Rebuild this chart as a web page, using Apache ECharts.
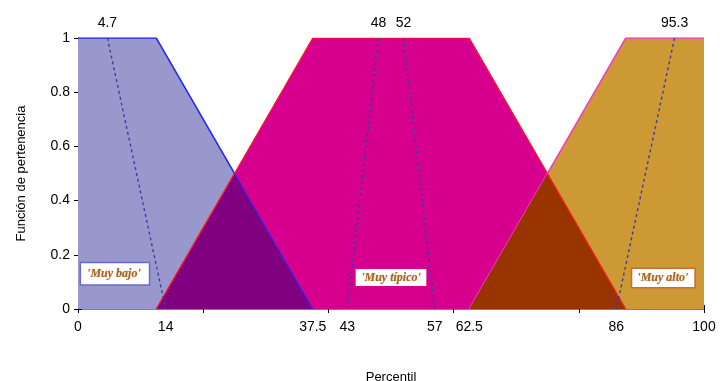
<!DOCTYPE html>
<html>
<head>
<meta charset="utf-8">
<script src="https://cdn.jsdelivr.net/npm/echarts@6/dist/echarts.min.js"></script>
<style>
  html, body { margin: 0; padding: 0; background: #fff; }
  #chart { width: 721px; height: 381px; }
</style>
</head>
<body>
<div id="chart"></div>
<script>
// Membership functions over the percentile axis
const muyBajo   = [[0, 1], [12.5, 1], [37.5, 0]];
const muyTipico = [[12.5, 0], [37.5, 1], [62.5, 1], [87.5, 0]];
const muyAlto   = [[62.5, 0], [87.5, 1], [100, 1]];

// Overlap regions between neighbouring sets
const overlapBajoTipico = [[12.5, 0], [25, 0.5], [37.5, 0]];
const overlapTipicoAlto = [[62.5, 0], [75, 0.5], [87.5, 0]];

// Dashed boundary lines
const dashBajo      = [[4.7, 1], [14, 0]];
const dashTipicoIzq = [[48, 1], [43, 0]];
const dashTipicoDer = [[52, 1], [57, 0]];
const dashAlto      = [[95.3, 1], [86, 0]];

// Axis ticks and labels
const bottomLabels = [0, 14, 37.5, 43, 57, 62.5, 86, 100];
const topLabels    = [4.7, 48, 52, 95.3];
const xTicks       = [0, 20, 40, 60, 80, 100];

// Set names and label anchor points
const setNames  = ["'Muy bajo'", "'Muy típico'", "'Muy alto'"];
const setAnchor = [[5.9, 0.13], [50, 0.116], [93.5, 0.114]];

const chart = echarts.init(document.getElementById('chart'));

function area(data, fill, edge, edgeWidth, z) {
  return {
    type: 'line', data: data, symbol: 'none', z: z,
    lineStyle: { color: edge, width: edgeWidth },
    areaStyle: { color: fill, opacity: 1 },
    animation: false, silent: true
  };
}
function dashed(data) {
  return {
    type: 'line', data: data, symbol: 'none', z: 10,
    lineStyle: { color: '#3c3ca8', width: 1.4, type: [3, 3] },
    animation: false, silent: true
  };
}
function tag(i, border, pad) {
  return {
    type: 'scatter', symbolSize: 0, z: 20, animation: false, silent: true,
    itemStyle: { opacity: 1 },
    data: [setAnchor[i]],
    label: {
      show: true, position: 'inside', formatter: setNames[i], opacity: 1,
      fontFamily: 'Liberation Serif', fontStyle: 'italic', fontWeight: 'bold',
      fontSize: 12, color: '#a3641c',
      textShadowColor: 'rgba(160,100,30,0.45)', textShadowBlur: 1.5,
      backgroundColor: '#ffffff', borderColor: border, borderWidth: 1.5,
      padding: pad
    }
  };
}

const font = 'Liberation Sans, Arial, sans-serif';

chart.setOption({
  backgroundColor: '#ffffff',
  animation: false,
  grid: { left: 78, right: 17, top: 38, bottom: 72, outerBoundsMode: 'none', containLabel: false },
  xAxis: [{
    type: 'value', min: 0, max: 100, position: 'bottom',
    name: 'Percentil', nameLocation: 'middle', nameGap: 62,
    nameTextStyle: { fontFamily: font, fontSize: 13, color: '#000' },
    axisLine: { show: true, onZero: false, lineStyle: { color: '#555', width: 1 } },
    axisTick: { show: true, inside: true, length: 4, customValues: xTicks, lineStyle: { color: '#000' } },
    axisLabel: { customValues: bottomLabels, fontFamily: font, fontSize: 14, color: '#000', margin: 11 },
    splitLine: { show: false }
  }, {
    type: 'value', min: 0, max: 100, position: 'top',
    axisLine: { show: true, lineStyle: { color: '#808080', width: 1 } },
    axisTick: { show: true, inside: true, length: 4, customValues: xTicks, lineStyle: { color: '#000' } },
    axisLabel: { customValues: topLabels, fontFamily: font, fontSize: 14, color: '#000', margin: 8 },
    splitLine: { show: false }
  }],
  yAxis: [{
    type: 'value', min: 0, max: 1, interval: 0.2, position: 'left',
    name: 'Función de pertenencia', nameLocation: 'middle', nameGap: 50,
    nameTextStyle: { fontFamily: font, fontSize: 13, color: '#000' },
    axisLine: { show: true, lineStyle: { color: '#3030a0', width: 1 } },
    axisTick: { show: true, inside: true, length: 4, lineStyle: { color: '#000' } },
    axisLabel: { fontFamily: font, fontSize: 14, color: '#000', margin: 8,
      formatter: v => (Math.round(v * 10) / 10).toString() },
    splitLine: { show: false }
  }, {
    type: 'value', min: 0, max: 1, interval: 0.2, position: 'right',
    axisLine: { show: true, lineStyle: { color: '#333', width: 1 } },
    axisTick: { show: true, inside: true, length: 4, lineStyle: { color: '#000' } },
    axisLabel: { show: false },
    splitLine: { show: false }
  }],
  series: [
    area(muyBajo, '#9898cc', '#2a2af0', 1.5, 2),
    area(muyTipico, '#d7008e', '#ff1a1a', 1.2, 3),
    area(muyAlto, '#cd9935', '#f040c0', 1.5, 4),
    area(overlapBajoTipico, '#800080', 'rgba(0,0,0,0)', 0, 5),
    area(overlapTipicoAlto, '#993300', 'rgba(0,0,0,0)', 0, 5),
    // edges redrawn above the overlap regions
    { type: 'line', data: [[12.5, 0], [25, 0.5]], symbol: 'none', z: 6, animation: false,
      lineStyle: { color: '#ff2020', width: 1.2 } },
    { type: 'line', data: [[25, 0.5], [37.5, 0]], symbol: 'none', z: 6, animation: false,
      lineStyle: { color: '#2a2af0', width: 1.2 } },
    { type: 'line', data: [[75, 0.5], [87.5, 0]], symbol: 'none', z: 6, animation: false,
      lineStyle: { color: '#ff2020', width: 1.2 } },
    dashed(dashBajo),
    dashed(dashTipicoIzq),
    dashed(dashTipicoDer),
    dashed(dashAlto),
    tag(0, '#6a6ad0', [5, 8, 4, 6]),
    tag(1, '#ffffff', [1, 4, 1, 4]),
    tag(2, '#d06a30', [3, 6, 3, 5])
  ]
});
</script>
</body>
</html>
